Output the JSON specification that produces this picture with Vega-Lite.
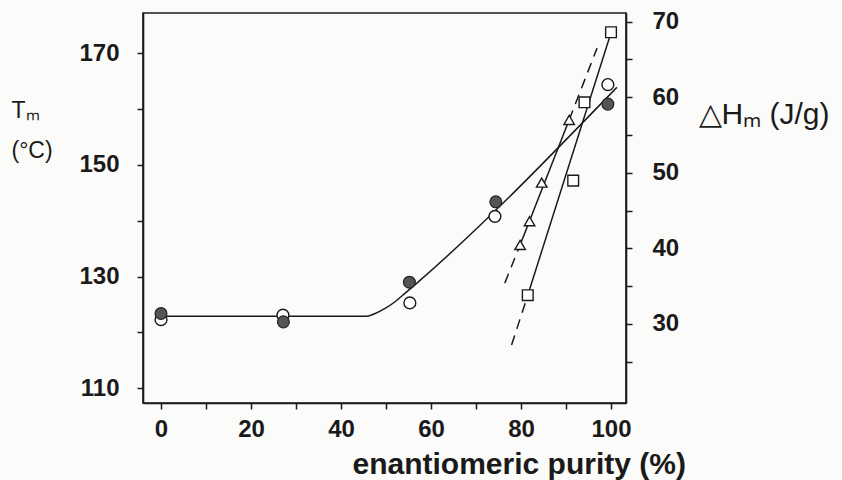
{
  "$schema": "https://vega.github.io/schema/vega-lite/v6.json",
  "width": 483,
  "height": 390,
  "autosize": {"type": "none"},
  "padding": {"left": 143, "top": 13, "right": 216, "bottom": 77},
  "background": "#fbfbf9",
  "config": {
    "view": {"stroke": "#1a1a1a", "strokeWidth": 1.6},
    "font": "Liberation Sans",
    "axis": {
      "grid": false,
      "domainColor": "#1a1a1a",
      "domainWidth": 1.6,
      "tickColor": "#1a1a1a",
      "tickWidth": 1.5,
      "tickSize": 6,
      "labelFont": "Liberation Sans",
      "labelFontSize": 24,
      "labelFontWeight": "bold",
      "labelColor": "#1a1a1a",
      "titleFont": "Liberation Sans",
      "titleColor": "#1a1a1a"
    }
  },
  "datasets": {
    "tmLine": [
      {"x": 0, "T": 122.9},
      {"x": 45.7, "T": 122.9},
      {"x": 47.6, "T": 123.4},
      {"x": 49.8, "T": 124.3},
      {"x": 52.0, "T": 125.5},
      {"x": 54.2, "T": 127.0},
      {"x": 56.8, "T": 128.8},
      {"x": 101.3, "T": 163.9}
    ],
    "tmPoints": [
      {"kind": "open", "x": 0, "T": 122.3},
      {"kind": "open", "x": 27.1, "T": 123.1},
      {"kind": "open", "x": 55.3, "T": 125.3},
      {"kind": "open", "x": 74.2, "T": 140.8},
      {"kind": "open", "x": 99.3, "T": 164.4},
      {"kind": "filled", "x": 0, "T": 123.4},
      {"kind": "filled", "x": 27.2, "T": 121.9},
      {"kind": "filled", "x": 55.2, "T": 129.0},
      {"kind": "filled", "x": 74.4, "T": 143.4},
      {"kind": "filled", "x": 99.3, "T": 160.9}
    ],
    "hLines": [
      {"line": "sq_dash", "style": "dashed", "x": 77.9, "H": 27.2},
      {"line": "sq_dash", "style": "dashed", "x": 81.5, "H": 33.8},
      {"line": "sq_solid", "style": "solid", "x": 81.5, "H": 33.8},
      {"line": "sq_solid", "style": "solid", "x": 100.3, "H": 69.1},
      {"line": "tri_dash_lo", "style": "dashed", "x": 76.4, "H": 35.4},
      {"line": "tri_dash_lo", "style": "dashed", "x": 79.8, "H": 40.45},
      {"line": "tri_solid", "style": "solid", "x": 79.8, "H": 40.45},
      {"line": "tri_solid", "style": "solid", "x": 90.7, "H": 57.0},
      {"line": "tri_dash_hi", "style": "dashed", "x": 90.7, "H": 57.0},
      {"line": "tri_dash_hi", "style": "dashed", "x": 96.9, "H": 66.5}
    ],
    "hPoints": [
      {"kind": "square", "x": 81.5, "H": 33.8},
      {"kind": "square", "x": 91.6, "H": 48.96},
      {"kind": "square", "x": 94.1, "H": 59.33},
      {"kind": "square", "x": 100.0, "H": 68.6},
      {"kind": "triangle", "x": 79.8, "H": 40.45},
      {"kind": "triangle", "x": 81.9, "H": 43.6},
      {"kind": "triangle", "x": 84.6, "H": 48.7},
      {"kind": "triangle", "x": 90.7, "H": 57.0}
    ]
  },
  "layer": [
    {
      "layer": [
        {
          "data": {"name": "tmLine"},
          "mark": {"type": "line", "color": "#1a1a1a", "strokeWidth": 1.5, "interpolate": "monotone"},
          "encoding": {
            "x": {
              "field": "x", "type": "quantitative",
              "scale": {"domain": [-4, 103.33], "nice": false, "zero": false},
              "axis": {
                "values": [0, 10, 20, 30, 40, 50, 60, 70, 80, 90, 100],
                "labelExpr": "datum.value % 20 == 0 ? datum.label : ''",
                "labelPadding": 8,
                "title": "enantiomeric purity (%)",
                "titleFontSize": 30,
                "titleFontWeight": "bold",
                "titleX": 209,
                "titleY": 61,
                "titleAlign": "left",
                "titleBaseline": "middle"
              }
            },
            "y": {
              "field": "T", "type": "quantitative",
              "scale": {"domain": [107.37, 177.22], "nice": false, "zero": false},
              "axis": {
                "values": [110, 120, 130, 140, 150, 160, 170],
                "labelExpr": "datum.value % 20 == 10 ? datum.label : ''",
                "labelPadding": 18,
                "title": ["Tₘ", "(°C)"],
                "titleAngle": 0,
                "titleFontSize": 23,
                "titleFontWeight": "normal",
                "titleLineHeight": 40,
                "titleX": -132,
                "titleY": 86,
                "titleAlign": "left",
                "titleBaseline": "top"
              }
            }
          }
        },
        {
          "data": {"name": "tmPoints"},
          "transform": [{"filter": "datum.kind == 'open'"}],
          "mark": {"type": "point", "shape": "circle", "filled": true, "fill": "#ffffff", "stroke": "#1a1a1a", "strokeWidth": 1.4, "size": 140, "opacity": 1},
          "encoding": {
            "x": {"field": "x", "type": "quantitative"},
            "y": {"field": "T", "type": "quantitative"}
          }
        },
        {
          "data": {"name": "tmPoints"},
          "transform": [{"filter": "datum.kind == 'filled'"}],
          "mark": {"type": "point", "shape": "circle", "filled": true, "fill": "#555555", "stroke": "#222222", "strokeWidth": 1.2, "size": 140, "opacity": 1},
          "encoding": {
            "x": {"field": "x", "type": "quantitative"},
            "y": {"field": "T", "type": "quantitative"}
          }
        }
      ]
    },
    {
      "layer": [
        {
          "data": {"name": "hLines"},
          "mark": {"type": "line", "color": "#1a1a1a", "strokeWidth": 1.5},
          "encoding": {
            "x": {"field": "x", "type": "quantitative"},
            "y": {
              "field": "H", "type": "quantitative",
              "scale": {"domain": [19.53, 71.15], "nice": false, "zero": false},
              "axis": {
                "orient": "right",
                "values": [25, 30, 35, 40, 45, 50, 55, 60, 65, 70],
                "labelExpr": "datum.value % 10 == 0 ? datum.label : ''",
                "labelPadding": 20,
                "title": "△Hₘ (J/g)",
                "titleAngle": 0,
                "titleFontSize": 30,
                "titleFontWeight": "normal",
                "titleX": 72,
                "titleY": 101,
                "titleAlign": "left",
                "titleBaseline": "middle"
              }
            },
            "detail": {"field": "line", "type": "nominal"},
            "strokeDash": {
              "field": "style", "type": "nominal",
              "scale": {"domain": ["solid", "dashed"], "range": [[1, 0], [10, 7]]},
              "legend": null
            }
          }
        },
        {
          "data": {"name": "hPoints"},
          "transform": [{"filter": "datum.kind == 'square'"}],
          "mark": {"type": "point", "shape": "square", "filled": true, "fill": "#ffffff", "stroke": "#1a1a1a", "strokeWidth": 1.4, "size": 115, "opacity": 1},
          "encoding": {
            "x": {"field": "x", "type": "quantitative"},
            "y": {"field": "H", "type": "quantitative"}
          }
        },
        {
          "data": {"name": "hPoints"},
          "transform": [{"filter": "datum.kind == 'triangle'"}],
          "mark": {"type": "point", "shape": "triangle-up", "filled": true, "fill": "#ffffff", "stroke": "#1a1a1a", "strokeWidth": 1.4, "size": 110, "opacity": 1},
          "encoding": {
            "x": {"field": "x", "type": "quantitative"},
            "y": {"field": "H", "type": "quantitative"}
          }
        }
      ]
    }
  ],
  "resolve": {"scale": {"y": "independent"}}
}
